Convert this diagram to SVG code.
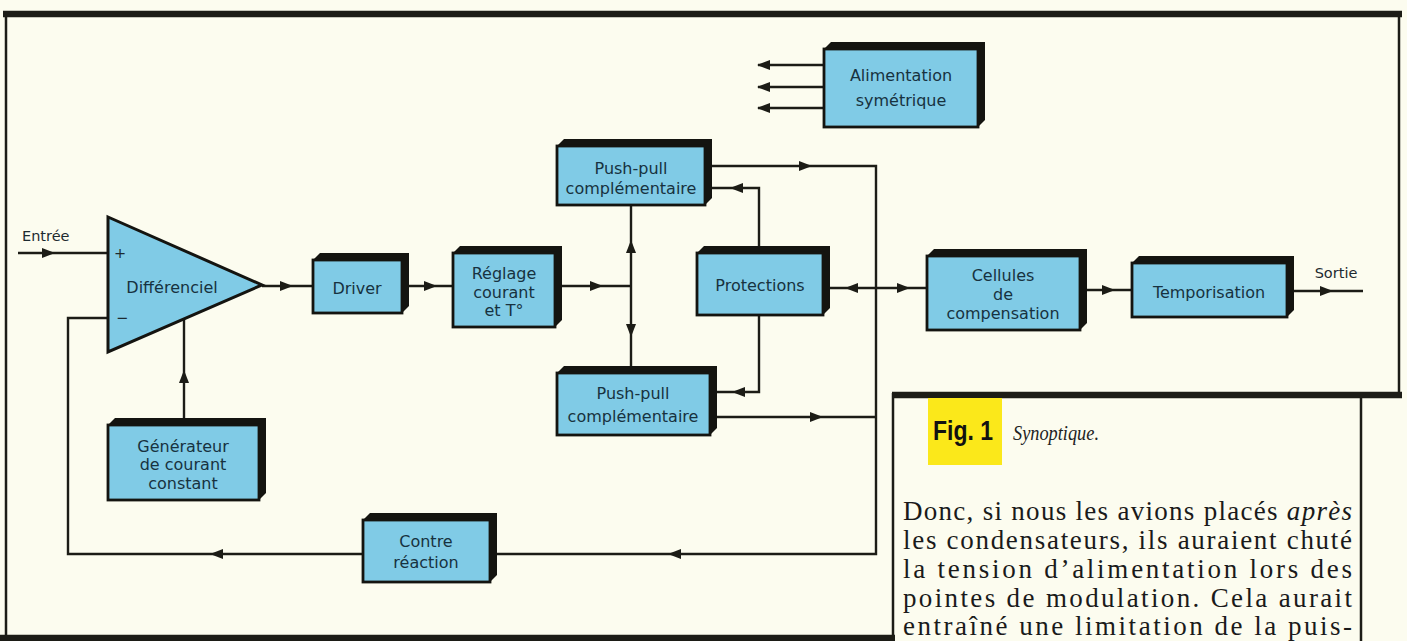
<svg xmlns="http://www.w3.org/2000/svg" xmlns:xlink="http://www.w3.org/1999/xlink" width="1407" height="641" viewBox="0 0 1407 641">
<style>
.bg{fill:#fcfcef}
.frame{fill:none;stroke:#1c1c16;stroke-width:2.5}
.thick{fill:none;stroke:#1c1c16;stroke-width:6.5}
.ln{fill:none;stroke:#1c1c16;stroke-width:2.4}
.ah{fill:#1c1c16}
.ext{fill:#141410}
.face{fill:#80cbe6;stroke:#141410;stroke-width:2.8}
.lbl{font-family:"DejaVu Sans",sans-serif;font-size:16px;fill:#173240;text-anchor:middle}
.io{font-family:"DejaVu Sans",sans-serif;font-size:14.5px;fill:#1d2a30}
.para{font-family:"Liberation Serif",serif;font-size:27px;fill:#1a1a1a}
.cap{font-family:"Liberation Serif",serif;font-style:italic;font-size:21px;fill:#222}
.fig{font-family:"Liberation Sans",sans-serif;font-weight:bold;font-size:27px;fill:#111}
</style>
<defs>
<path id="ah" class="ah" d="M0,0 L-13,-5 L-13,5 Z"/>
</defs>
<rect class="bg" x="0" y="0" width="1407" height="641"/>

<g id="frame">
<line class="thick" x1="3" y1="14" x2="1402" y2="14"/>
<line class="frame" x1="6" y1="14" x2="6" y2="641"/>
<line class="frame" x1="1399" y1="14" x2="1399" y2="396"/>
<line class="thick" x1="0" y1="638" x2="895" y2="638"/>
<line class="thick" x1="892" y1="395" x2="1402" y2="395"/>
<line class="frame" x1="893" y1="393" x2="893" y2="641"/>
<line class="frame" x1="1361" y1="395" x2="1361" y2="641"/>
</g>

<g id="connectors">
<line class="ln" x1="18" y1="253" x2="108" y2="253"/>
<use xlink:href="#ah" transform="translate(55,253)"/>
<line class="ln" x1="262" y1="286" x2="313" y2="286"/>
<use xlink:href="#ah" transform="translate(293,286)"/>
<line class="ln" x1="407" y1="286" x2="453" y2="286"/>
<use xlink:href="#ah" transform="translate(437,286)"/>
<line class="ln" x1="561" y1="286" x2="631" y2="286"/>
<use xlink:href="#ah" transform="translate(603,286)"/>
<line class="ln" x1="631" y1="205" x2="631" y2="367"/>
<use xlink:href="#ah" transform="translate(631,240) rotate(-90)"/>
<use xlink:href="#ah" transform="translate(631,337) rotate(90)"/>
<polyline class="ln" points="711,166 876,166 876,554 496,554"/>
<use xlink:href="#ah" transform="translate(812,166)"/>
<polyline class="ln" points="716,417 876,417"/>
<use xlink:href="#ah" transform="translate(823,417)"/>
<use xlink:href="#ah" transform="translate(668,554) rotate(180)"/>
<polyline class="ln" points="711,188 759,188 759,247"/>
<use xlink:href="#ah" transform="translate(730,188) rotate(180)"/>
<polyline class="ln" points="759,315 759,392 716,392"/>
<use xlink:href="#ah" transform="translate(732,392) rotate(180)"/>
<line class="ln" x1="829" y1="288" x2="927" y2="288"/>
<use xlink:href="#ah" transform="translate(845,288) rotate(180)"/>
<use xlink:href="#ah" transform="translate(910,288)"/>
<line class="ln" x1="1086" y1="290" x2="1132" y2="290"/>
<use xlink:href="#ah" transform="translate(1115,290)"/>
<line class="ln" x1="1293" y1="291" x2="1363" y2="291"/>
<use xlink:href="#ah" transform="translate(1333,291)"/>
<polyline class="ln" points="363,554 68,554 68,318 108,318"/>
<use xlink:href="#ah" transform="translate(210,554) rotate(180)"/>
<line class="ln" x1="184" y1="419" x2="184" y2="319"/>
<use xlink:href="#ah" transform="translate(184,370) rotate(-90)"/>
<line class="ln" x1="758" y1="65" x2="824" y2="65"/>
<line class="ln" x1="758" y1="87" x2="824" y2="87"/>
<line class="ln" x1="758" y1="108" x2="824" y2="108"/>
<use xlink:href="#ah" transform="translate(757,65) rotate(180)"/>
<use xlink:href="#ah" transform="translate(757,87) rotate(180)"/>
<use xlink:href="#ah" transform="translate(757,108) rotate(180)"/>
</g>

<g id="differenciel">
<polygon class="face" style="stroke-width:3" points="108,217 262,285 108,352"/>
<text class="lbl" x="172" y="293">Différenciel</text>
<text class="io" x="120" y="258" text-anchor="middle">+</text>
<text class="io" x="122" y="323" text-anchor="middle">−</text>
</g>
<g id="entree"><text class="io" x="22" y="241">Entrée</text></g>
<g id="sortie"><text class="io" x="1336" y="278" text-anchor="middle">Sortie</text></g>

<g id="alimentation">
<polygon class="ext" points="824,49 831,42 985,42 985,120 978,127 824,127"/>
<rect class="face" x="824" y="49" width="154" height="78"/>
<text class="lbl" x="901" y="81">Alimentation</text>
<text class="lbl" x="901" y="106">symétrique</text>
</g>

<g id="pushpull-haut">
<polygon class="ext" points="557,146 564,139 712,139 712,198 705,205 557,205"/>
<rect class="face" x="557" y="146" width="148" height="59"/>
<text class="lbl" x="631" y="174">Push-pull</text>
<text class="lbl" x="631" y="194">complémentaire</text>
</g>

<g id="driver">
<polygon class="ext" points="313,260 320,253 409,253 409,306 402,313 313,313"/>
<rect class="face" x="313" y="260" width="89" height="53"/>
<text class="lbl" x="357" y="294">Driver</text>
</g>

<g id="reglage">
<polygon class="ext" points="453,253 460,246 562,246 562,320 555,327 453,327"/>
<rect class="face" x="453" y="253" width="102" height="74"/>
<text class="lbl" x="504" y="279">Réglage</text>
<text class="lbl" x="504" y="298">courant</text>
<text class="lbl" x="504" y="316">et T°</text>
</g>

<g id="protections">
<polygon class="ext" points="697,253 704,246 830,246 830,308 823,315 697,315"/>
<rect class="face" x="697" y="253" width="126" height="62"/>
<text class="lbl" x="760" y="291">Protections</text>
</g>

<g id="cellules">
<polygon class="ext" points="927,256 934,249 1087,249 1087,323 1080,330 927,330"/>
<rect class="face" x="927" y="256" width="153" height="74"/>
<text class="lbl" x="1003" y="281">Cellules</text>
<text class="lbl" x="1003" y="300">de</text>
<text class="lbl" x="1003" y="319">compensation</text>
</g>

<g id="temporisation">
<polygon class="ext" points="1132,263 1139,256 1294,256 1294,310 1287,317 1132,317"/>
<rect class="face" x="1132" y="263" width="155" height="54"/>
<text class="lbl" x="1209" y="298">Temporisation</text>
</g>

<g id="pushpull-bas">
<polygon class="ext" points="557,373 564,366 717,366 717,428 710,435 557,435"/>
<rect class="face" x="557" y="373" width="153" height="62"/>
<text class="lbl" x="633" y="399">Push-pull</text>
<text class="lbl" x="633" y="422">complémentaire</text>
</g>

<g id="generateur">
<polygon class="ext" points="108,425 115,418 266,418 266,493 259,500 108,500"/>
<rect class="face" x="108" y="425" width="151" height="75"/>
<text class="lbl" x="183" y="452">Générateur</text>
<text class="lbl" x="183" y="470">de courant</text>
<text class="lbl" x="183" y="489">constant</text>
</g>

<g id="contre-reaction">
<polygon class="ext" points="363,520 370,513 497,513 497,575 490,582 363,582"/>
<rect class="face" x="363" y="520" width="127" height="62"/>
<text class="lbl" x="426" y="547">Contre</text>
<text class="lbl" x="426" y="568">réaction</text>
</g>

<g id="legende">
<rect x="928" y="398" width="74" height="67" fill="#fbe81a"/>
<text class="fig" x="933" y="440" textLength="60" lengthAdjust="spacingAndGlyphs">Fig. 1</text>
<text class="cap" x="1013" y="440" textLength="86" lengthAdjust="spacingAndGlyphs">Synoptique.</text>
<text class="para" x="903" y="520" textLength="449" lengthAdjust="spacing">Donc, si nous les avions placés <tspan font-style="italic">après</tspan></text>
<text class="para" x="903" y="549" textLength="449" lengthAdjust="spacing">les condensateurs, ils auraient chuté</text>
<text class="para" x="903" y="578" textLength="449" lengthAdjust="spacing">la tension d’alimentation lors des</text>
<text class="para" x="903" y="607" textLength="449" lengthAdjust="spacing">pointes de modulation. Cela aurait</text>
<text class="para" x="903" y="635" textLength="449" lengthAdjust="spacing">entraîné une limitation de la puis-</text>
</g>
</svg>
